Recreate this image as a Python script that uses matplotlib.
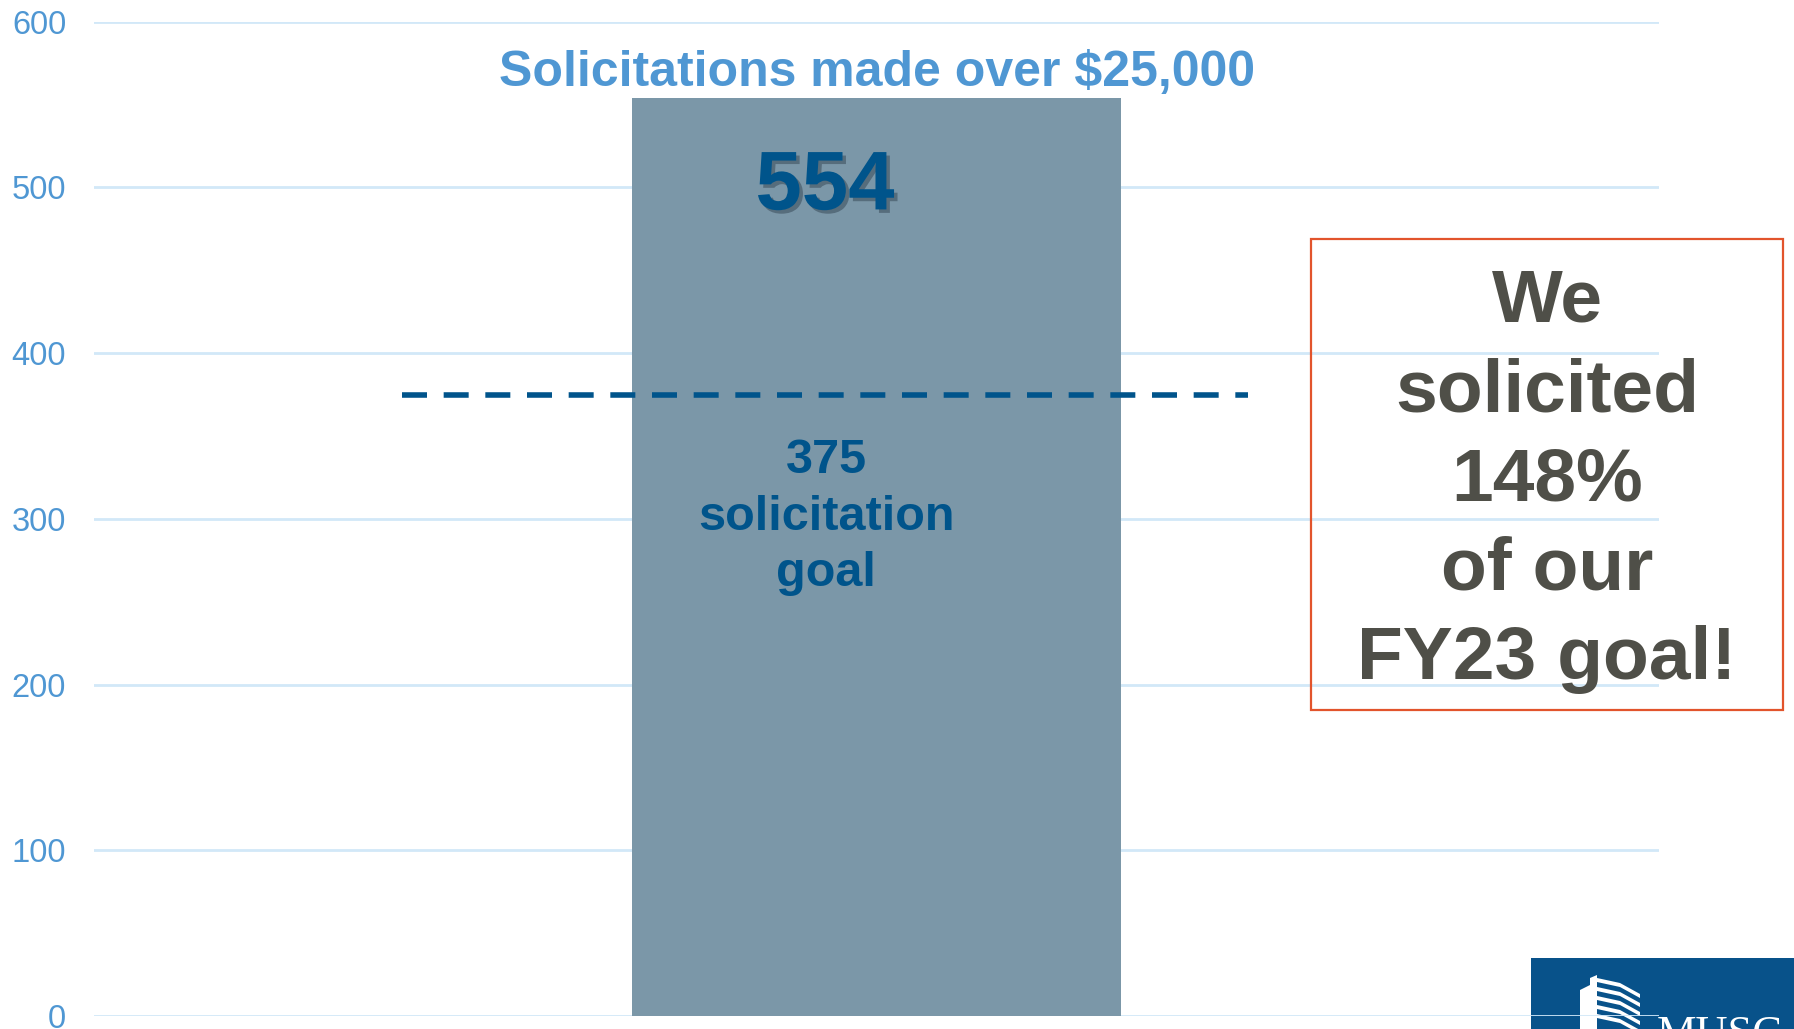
import matplotlib
matplotlib.use("Agg")
import matplotlib.pyplot as plt
from matplotlib.patches import Rectangle, Polygon
import matplotlib.patheffects as pe

# ---- data ----
categories = ["Solicitations"]
values = [554]
goal = 375
yticks = [0, 100, 200, 300, 400, 500, 600]
title = "Solicitations made over $25,000"
goal_label = "375\nsolicitation\ngoal"
callout = "We\nsolicited\n148%\nof our\nFY23 goal!"

# ---- style ----
BAR = "#7b97a8"
BLUE_LIGHT = "#4f97d3"
DARK_BLUE = "#00548b"
GRID = "#d2e8f8"
BOX_TXT = "#4f4f48"
BOX_EDGE = "#e2542c"
NARROW = ["Liberation Sans Narrow", "Liberation Sans", "DejaVu Sans"]
ARIAL = ["Liberation Sans", "DejaVu Sans"]

W, H = 1794, 1029
fig = plt.figure(figsize=(W / 100, H / 100), dpi=100)
fig.patch.set_facecolor("white")

ax_l, ax_r, ax_t, ax_b = 94, 1659, 21.7, 1016
ax = fig.add_axes([ax_l / W, 1 - ax_b / H, (ax_r - ax_l) / W, (ax_b - ax_t) / H])
ax.set_facecolor("none")

ax.bar([0], values, width=1.0, color=BAR, zorder=2)
ax.set_xlim(-1.6, 1.6)
ax.set_ylim(0, 600)
ax.set_yticks(yticks)
ax.set_yticklabels([str(t) for t in yticks], fontsize=23.5, color=BLUE_LIGHT,
                   family=ARIAL)
ax.tick_params(axis="y", length=0, pad=20)
ax.set_xticks([])
for s in ax.spines.values():
    s.set_visible(False)
ax.yaxis.grid(True, color=GRID, linewidth=2, zorder=0)
ax.set_axisbelow(True)

# goal line
ax.plot([-0.97, 0.76], [goal, goal], color=DARK_BLUE, linewidth=4.0,
        dashes=(4.5, 3.0), zorder=3, solid_capstyle="butt", dash_capstyle="butt")

# title
ax.text(0, 569, title, ha="center", va="center", fontsize=36, fontweight="bold",
        color=BLUE_LIGHT, family=NARROW, clip_on=False)

# value label with shadow
ax.text(-0.105, 500, str(values[0]), ha="center", va="center", fontsize=60,
        fontweight="bold", color=DARK_BLUE, family=ARIAL, zorder=4,
        path_effects=[pe.withSimplePatchShadow(offset=(2.5, -2.5),
                                               shadow_rgbFace="#2a3a48", alpha=0.45)])

# goal label
ax.text(-0.103, 301, goal_label, ha="center", va="center", fontsize=35,
        fontweight="bold", color=DARK_BLUE, family=NARROW, linespacing=1.33,
        zorder=4)

# callout box
fig.patches.append(Rectangle((1311 / W, 1 - 710 / H), 472 / W, 471 / H,
                             transform=fig.transFigure, fill=False,
                             edgecolor=BOX_EDGE, linewidth=1.6, zorder=3))
fig.text(1547 / W, 1 - 481 / H, callout, ha="center", va="center", fontsize=54,
         fontweight="bold", color=BOX_TXT, family=ARIAL, linespacing=1.375)

# logo block (bottom-right)
fig.patches.append(Rectangle((1531 / W, 0), (W - 1531) / W, (H - 958) / H,
                             transform=fig.transFigure, facecolor="#08528a",
                             edgecolor="none", zorder=-1))
# stylised building
def fp(pts):
    return [(x / W, 1 - y / H) for x, y in pts]
fig.patches.append(Polygon(fp([(1580, 1029), (1580, 990), (1590, 985), (1590, 978),
                                (1597, 975), (1597, 1029)]),
                           closed=True, transform=fig.transFigure,
                           facecolor="white", edgecolor="none", zorder=-0.5))
for i in range(5):
    y0 = 978 + i * 9
    fig.patches.append(Polygon(fp([(1597, y0), (1620, y0 + 5), (1640, y0 + 16),
                                    (1640, y0 + 20), (1620, y0 + 9), (1597, y0 + 4)]),
                               closed=True, transform=fig.transFigure,
                               facecolor="white", edgecolor="none", zorder=-0.5))
fig.text(1657 / W, 1 - 1015 / H, "MUSC", ha="left", va="top", fontsize=32,
         color="white", family=["Liberation Serif", "DejaVu Serif"], zorder=-0.4)

fig.savefig("out.png", dpi=100)
